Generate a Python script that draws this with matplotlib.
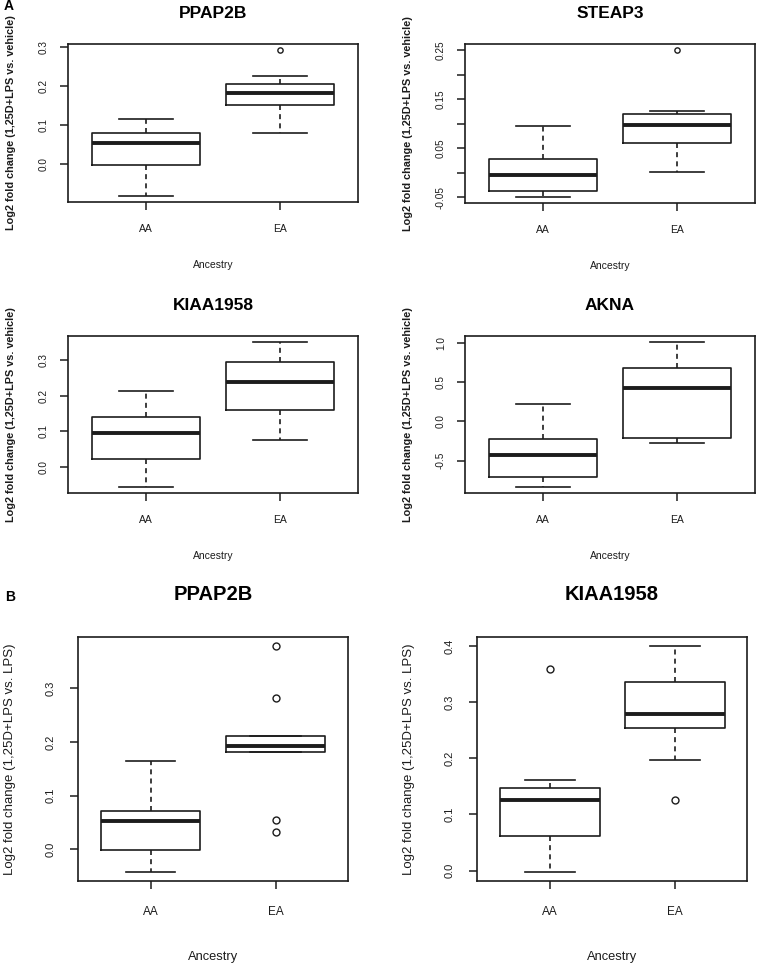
import matplotlib
matplotlib.use("Agg")
import matplotlib.pyplot as plt

plt.rcParams['font.family'] = ['Liberation Sans', 'DejaVu Sans']

# ---------------- data ----------------
groups = ["AA", "EA"]

# Panel A (1,25D+LPS vs. vehicle)
ppap2b_a_aa = dict(whislo=-0.0836, q1=-0.0026, med=0.0517, q3=0.0776, whishi=0.1138, fliers=[])
ppap2b_a_ea = dict(whislo=0.0776, q1=0.150, med=0.181, q3=0.205, whishi=0.226, fliers=[0.292])
ppap2b_a_ticks = [0.0, 0.1, 0.2, 0.3]
ppap2b_a_ticklabels = ["0.0", "0.1", "0.2", "0.3"]

steap3_aa = dict(whislo=-0.050, q1=-0.0368, med=-0.005, q3=0.0281, whishi=0.0952, fliers=[])
steap3_ea = dict(whislo=0.0012, q1=0.0613, med=0.0973, q3=0.120, whishi=0.127, fliers=[0.251])
steap3_ticks = [-0.05, 0.0, 0.05, 0.10, 0.15, 0.20, 0.25]
steap3_ticklabels = ["-0.05", "", "0.05", "", "0.15", "", "0.25"]

kiaa_a_aa = dict(whislo=-0.057, q1=0.0215, med=0.0944, q3=0.140, whishi=0.212, fliers=[])
kiaa_a_ea = dict(whislo=0.0765, q1=0.160, med=0.237, q3=0.294, whishi=0.351, fliers=[])
kiaa_a_ticks = [0.0, 0.1, 0.2, 0.3]
kiaa_a_ticklabels = ["0.0", "0.1", "0.2", "0.3"]

akna_aa = dict(whislo=-0.839, q1=-0.712, med=-0.424, q3=-0.225, whishi=0.216, fliers=[])
akna_ea = dict(whislo=-0.275, q1=-0.208, med=0.424, q3=0.682, whishi=1.013, fliers=[])
akna_ticks = [-0.5, 0.0, 0.5, 1.0]
akna_ticklabels = ["-0.5", "0.0", "0.5", "1.0"]

# Panel B (1,25D+LPS vs. LPS)
ppap2b_b_aa = dict(whislo=-0.0423, q1=-0.0012, med=0.0535, q3=0.071, whishi=0.1637, fliers=[])
ppap2b_b_ea = dict(whislo=0.1805, q1=0.1805, med=0.1917, q3=0.211, whishi=0.211,
                   fliers=[0.379, 0.282, 0.0548, 0.0324])
ppap2b_b_ticks = [0.0, 0.1, 0.2, 0.3]
ppap2b_b_ticklabels = ["0.0", "0.1", "0.2", "0.3"]

kiaa_b_aa = dict(whislo=-0.0024, q1=0.061, med=0.126, q3=0.148, whishi=0.162, fliers=[0.359])
kiaa_b_ea = dict(whislo=0.197, q1=0.254, med=0.279, q3=0.3365, whishi=0.400, fliers=[0.125])
kiaa_b_ticks = [0.0, 0.1, 0.2, 0.3, 0.4]
kiaa_b_ticklabels = ["0.0", "0.1", "0.2", "0.3", "0.4"]

ylabel_a = "Log2 fold change (1,25D+LPS vs. vehicle)"
ylabel_b = "Log2 fold change (1,25D+LPS vs. LPS)"
xlabel = "Ancestry"

# ---------------- figure ----------------
W, H = 757, 965
fig = plt.figure(figsize=(W / 100, H / 100), dpi=100)
fig.patch.set_facecolor("white")

INK = "#1c1c1c"


def make_axes(left, top, right, bottom):
    return fig.add_axes([left / W, 1 - bottom / H, (right - left) / W, (bottom - top) / H])


def panel(rect, title, stats_pair, ticks, ticklabels, ylabel, big):
    ax = make_axes(*rect)
    stats = []
    for g, s in zip(groups, stats_pair):
        d = dict(s)
        d["label"] = g
        stats.append(d)
    lw = 1.2
    ms = 5.0 if big else 3.8
    ax.bxp(stats, positions=[1, 2], widths=0.8, capwidths=0.4, showfliers=True,
           boxprops=dict(color=INK, linewidth=lw),
           medianprops=dict(color=INK, linewidth=2.8, solid_capstyle="butt"),
           whiskerprops=dict(color=INK, linewidth=lw, linestyle=(0, (3, 2.5))),
           capprops=dict(color=INK, linewidth=lw),
           flierprops=dict(marker="o", markerfacecolor="none", markeredgecolor=INK,
                           markersize=ms, markeredgewidth=1.0, linestyle="none"))
    ax.set_xlim(0.42, 2.58)
    ax.margins(y=0.04)
    ax.autoscale_view(scalex=False, scaley=True)
    for sp in ax.spines.values():
        sp.set_linewidth(1.2)
        sp.set_color(INK)
    ax.set_xticks([1, 2])
    ax.set_xticklabels(groups)
    ax.set_yticks(ticks)
    ax.set_yticklabels(ticklabels)
    if big:
        tfs, xfs, yfs, lfs, ttl = 8.0, 8.5, 9.3, 9.5, 14.5
        xpad, ypad = 12, 10.5
        tgap, xgap, ygap = 42, 76, 68
        yweight = "normal"
    else:
        tfs, xfs, yfs, lfs, ttl = 7.2, 7.5, 7.5, 7.8, 12.5
        xpad, ypad = 10, 8.0
        tgap, xgap, ygap = 30, 63, 57
        yweight = "bold"
    ax.tick_params(axis="both", direction="out", length=5.8, width=1.1, color=INK)
    ax.tick_params(axis="x", labelsize=xfs, pad=xpad, labelcolor=INK)
    ax.tick_params(axis="y", labelsize=tfs, pad=ypad, labelrotation=90, labelcolor=INK)
    for t in ax.get_yticklabels():
        t.set_va("center")
        t.set_ha("right")
    ax.annotate(title, xy=(0.5, 1), xycoords="axes fraction", xytext=(0, tgap),
                textcoords="offset pixels", ha="center", va="center",
                fontsize=ttl, fontweight="bold", color="black")
    ax.annotate(xlabel, xy=(0.5, 0), xycoords="axes fraction", xytext=(0, -xgap),
                textcoords="offset pixels", ha="center", va="center",
                fontsize=yfs, color=INK)
    ax.annotate(ylabel, xy=(0, 0.5), xycoords="axes fraction", xytext=(-ygap, 0),
                textcoords="offset pixels", ha="center", va="center", rotation=90,
                fontsize=lfs, fontweight=yweight, color=INK)
    return ax


panel((68, 44, 358, 202), "PPAP2B", (ppap2b_a_aa, ppap2b_a_ea), ppap2b_a_ticks, ppap2b_a_ticklabels, ylabel_a, False)
panel((465, 44, 755, 203), "STEAP3", (steap3_aa, steap3_ea), steap3_ticks, steap3_ticklabels, ylabel_a, False)
panel((68, 336, 358, 493), "KIAA1958", (kiaa_a_aa, kiaa_a_ea), kiaa_a_ticks, kiaa_a_ticklabels, ylabel_a, False)
panel((465, 336, 755, 493), "AKNA", (akna_aa, akna_ea), akna_ticks, akna_ticklabels, ylabel_a, False)
panel((78, 637, 348, 881), "PPAP2B", (ppap2b_b_aa, ppap2b_b_ea), ppap2b_b_ticks, ppap2b_b_ticklabels, ylabel_b, True)
panel((477, 637, 747, 881), "KIAA1958", (kiaa_b_aa, kiaa_b_ea), kiaa_b_ticks, kiaa_b_ticklabels, ylabel_b, True)

fig.text(9 / W, 1 - 6 / H, "A", fontsize=10, fontweight="bold", ha="center", va="center")
fig.text(10 / W, 1 - 597 / H, "B", fontsize=10, fontweight="bold", ha="center", va="center")

fig.savefig("out.png", dpi=100, facecolor="white")
